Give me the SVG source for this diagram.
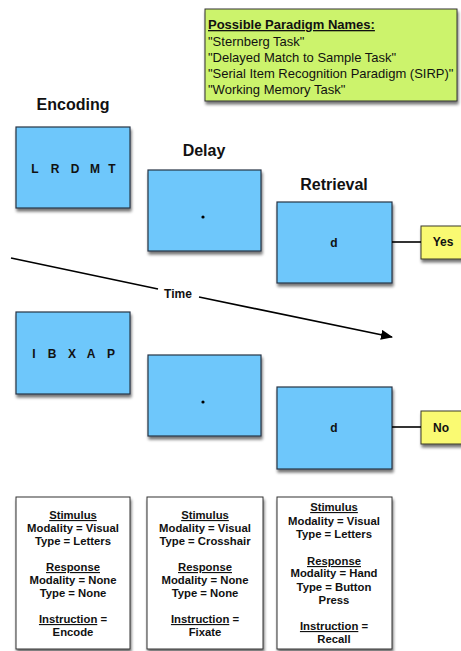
<svg xmlns="http://www.w3.org/2000/svg" width="461" height="651" viewBox="0 0 461 651">
<defs>
<filter id="sh" x="-20%" y="-20%" width="150%" height="150%">
<feGaussianBlur in="SourceAlpha" stdDeviation="1.5"/>
<feOffset dx="1" dy="3" result="b"/>
<feComponentTransfer><feFuncA type="linear" slope="0.55"/></feComponentTransfer>
<feMerge><feMergeNode/><feMergeNode in="SourceGraphic"/></feMerge>
</filter>
<marker id="ah" viewBox="0 0 12 10" refX="11" refY="5" markerWidth="12" markerHeight="10" markerUnits="userSpaceOnUse" orient="auto">
<path d="M0,0 L12,5 L0,10 z" fill="#000"/>
</marker>
</defs>
<style>
text{font-family:"Liberation Sans",Arial,sans-serif;fill:#111}
.blue{fill:#6ec7fb;stroke:#253445;stroke-width:1.2}
.yel{fill:#fafa72;stroke:#3a3a2a;stroke-width:1}
.wht{fill:#fff;stroke:#333;stroke-width:1}
.grn{fill:#ccf36c;stroke:#333;stroke-width:1}
.title{font-size:16px;font-weight:bold;text-anchor:middle}
.let{font-size:12px;font-weight:bold;text-anchor:middle}
.info{font-size:11.3px;font-weight:bold;text-anchor:middle}
.u{text-decoration:underline}
.gt{font-size:13px}
.conn{stroke:#000;stroke-width:1.6;fill:none}
</style>

<g id="paradigm-names">
<rect class="grn" x="205" y="9" width="252" height="92" filter="url(#sh)"/>
<text class="gt" x="208" y="29" font-weight="bold" text-decoration="underline">Possible Paradigm Names:</text>
<text class="gt" x="208" y="46">"Sternberg Task"</text>
<text class="gt" x="208" y="62">"Delayed Match to Sample Task"</text>
<text class="gt" x="208" y="78">"Serial Item Recognition Paradigm (SIRP)"</text>
<text class="gt" x="208" y="94">"Working Memory Task"</text>
</g>

<g id="titles">
<text class="title" x="73" y="110">Encoding</text>
<text class="title" x="204" y="156">Delay</text>
<text class="title" x="334" y="190">Retrieval</text>
</g>

<g id="encoding-1">
<rect class="blue" x="16" y="127" width="114" height="81" filter="url(#sh)"/>
<text class="let" y="173"><tspan x="35">L</tspan><tspan x="55">R</tspan><tspan x="75">D</tspan><tspan x="95">M</tspan><tspan x="112">T</tspan></text>
</g>
<g id="delay-1">
<rect class="blue" x="148" y="170" width="113" height="81" filter="url(#sh)"/>
<circle cx="203" cy="217" r="1.6" fill="#000"/>
</g>
<g id="retrieval-1">
<rect class="blue" x="277" y="202" width="115" height="81" filter="url(#sh)"/>
<text class="let" x="334" y="247">d</text>
</g>
<g id="yes">
<rect class="yel" x="421" y="226" width="50" height="33" filter="url(#sh)"/>
<text class="let" x="443" y="246">Yes</text>
</g>

<g id="encoding-2">
<rect class="blue" x="16" y="312" width="114" height="82" filter="url(#sh)"/>
<text class="let" y="358"><tspan x="34">I</tspan><tspan x="52">B</tspan><tspan x="72">X</tspan><tspan x="91">A</tspan><tspan x="111">P</tspan></text>
</g>
<g id="delay-2">
<rect class="blue" x="148" y="355" width="113" height="81" filter="url(#sh)"/>
<circle cx="203" cy="402" r="1.6" fill="#000"/>
</g>
<g id="retrieval-2">
<rect class="blue" x="277" y="387" width="115" height="82" filter="url(#sh)"/>
<text class="let" x="334" y="432">d</text>
</g>
<g id="no">
<rect class="yel" x="421" y="411" width="50" height="33" filter="url(#sh)"/>
<text class="let" x="441" y="432">No</text>
</g>

<g id="time-label">
<text class="let" x="178" y="298">Time</text>
</g>

<g id="connectors">
<line class="conn" x1="392" y1="242" x2="421" y2="242"/>
<line class="conn" x1="392" y1="427" x2="421" y2="427"/>
<line class="conn" x1="11" y1="258" x2="158" y2="289"/>
<line class="conn" x1="199" y1="297" x2="392" y2="337" marker-end="url(#ah)"/>
</g>

<g id="info-encoding">
<rect class="wht" x="16" y="497" width="114" height="152" filter="url(#sh)"/>
<text class="info u" x="73" y="519">Stimulus</text>
<text class="info" x="73" y="532">Modality = Visual</text>
<text class="info" x="73" y="545">Type = Letters</text>
<text class="info u" x="73" y="571">Response</text>
<text class="info" x="73" y="584">Modality = None</text>
<text class="info" x="73" y="597">Type = None</text>
<text class="info" x="73" y="623"><tspan class="u">Instruction</tspan> =</text>
<text class="info" x="73" y="636">Encode</text>
</g>
<g id="info-delay">
<rect class="wht" x="147" y="497" width="116" height="152" filter="url(#sh)"/>
<text class="info u" x="205" y="519">Stimulus</text>
<text class="info" x="205" y="532">Modality = Visual</text>
<text class="info" x="205" y="545">Type = Crosshair</text>
<text class="info u" x="205" y="571">Response</text>
<text class="info" x="205" y="584">Modality = None</text>
<text class="info" x="205" y="597">Type = None</text>
<text class="info" x="205" y="623"><tspan class="u">Instruction</tspan> =</text>
<text class="info" x="205" y="636">Fixate</text>
</g>
<g id="info-retrieval">
<rect class="wht" x="277" y="497" width="115" height="152" filter="url(#sh)"/>
<text class="info u" x="334" y="511">Stimulus</text>
<text class="info" x="334" y="525">Modality = Visual</text>
<text class="info" x="334" y="538">Type = Letters</text>
<text class="info u" x="334" y="565">Response</text>
<text class="info" x="334" y="577">Modality = Hand</text>
<text class="info" x="334" y="591">Type = Button</text>
<text class="info" x="334" y="604">Press</text>
<text class="info" x="334" y="630"><tspan class="u">Instruction</tspan> =</text>
<text class="info" x="334" y="643">Recall</text>
</g>
</svg>
